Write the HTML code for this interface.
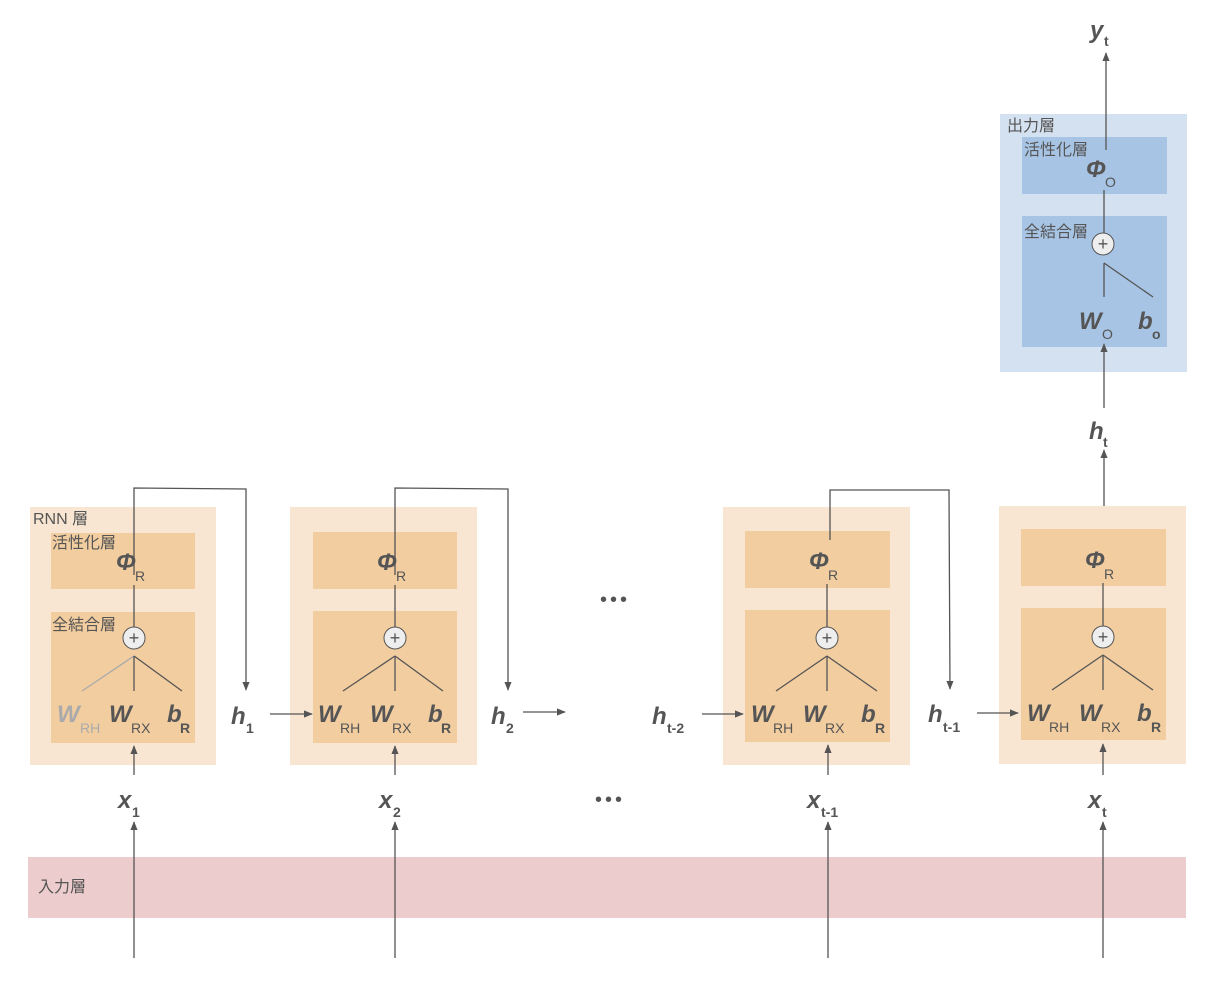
<!DOCTYPE html>
<html><head><meta charset="utf-8"><style>
html,body{margin:0;padding:0;background:#fff}
svg{display:block}
.m{font-family:"Liberation Sans",sans-serif;font-weight:bold;font-style:italic;font-size:24px;fill:#555}
.s{font-family:"Liberation Sans",sans-serif;font-size:14px;fill:#555}
.sb{font-family:"Liberation Sans",sans-serif;font-size:14px;font-weight:bold;fill:#555}
.j{font-family:"Liberation Sans","Noto Sans CJK JP",sans-serif;font-size:16px;fill:#555}
line,polyline{stroke:#555;stroke-width:1.3;fill:none}
</style></head><body>
<svg width="1212" height="992" viewBox="0 0 1212 992" xmlns="http://www.w3.org/2000/svg">
<defs>
<marker id="a" viewBox="0 0 10 10" refX="9" refY="5" markerWidth="7" markerHeight="7" orient="auto"><path d="M0,1 L10,5 L0,9 z" fill="#555"/></marker>
</defs>
<rect x="28" y="857" width="1158" height="61" fill="#eccccc"/>
<text class="j" x="38" y="892">入力層</text>

<rect x="1000" y="114" width="187" height="258" fill="#d4e1f0"/>
<rect x="1022" y="137" width="145" height="57" fill="#a8c4e4"/>
<rect x="1022" y="216" width="145" height="131" fill="#a8c4e4"/>
<text class="j" x="1007" y="131">出力層</text>
<text class="j" x="1024" y="155">活性化層</text>
<text class="j" x="1024" y="237">全結合層</text>
<text class="m" x="1086" y="177">Φ</text><text class="s" x="1105" y="187">O</text>
<line x1="1104" y1="190" x2="1104" y2="233"/>
<circle cx="1103" cy="244" r="11" fill="#eee" stroke="#555" stroke-width="1"/>
<text x="1103" y="250" text-anchor="middle" font-family="Liberation Sans" font-size="18" fill="#555">+</text>
<line x1="1104" y1="263" x2="1104" y2="297"/>
<line x1="1104" y1="263" x2="1153" y2="297"/>
<text class="m" x="1079" y="329">W</text><text class="s" x="1102" y="339">O</text>
<text class="m" x="1138" y="329">b</text><text class="sb" x="1152" y="339">o</text>
<line x1="1106" y1="150" x2="1106" y2="53" marker-end="url(#a)"/>
<text class="m" x="1090" y="38">y</text><text class="sb" x="1104" y="46">t</text>
<line x1="1104" y1="408" x2="1104" y2="344" marker-end="url(#a)"/>
<text class="m" x="1089" y="439">h</text><text class="sb" x="1103" y="447">t</text>
<line x1="1104" y1="530" x2="1104" y2="450" marker-end="url(#a)"/>

<rect x="30" y="507" width="186" height="258" fill="#f8e6d2"/>
<rect x="51" y="533" width="144" height="56" fill="#f2cda0"/>
<rect x="51" y="612" width="144" height="131" fill="#f2cda0"/>
<text class="j" x="33" y="524">RNN 層</text>
<text class="j" x="52" y="548">活性化層</text>
<text class="j" x="52" y="630">全結合層</text>
<rect x="290" y="507" width="187" height="258" fill="#f8e6d2"/>
<rect x="313" y="532" width="144" height="57" fill="#f2cda0"/>
<rect x="313" y="611" width="144" height="132" fill="#f2cda0"/>
<rect x="723" y="507" width="187" height="258" fill="#f8e6d2"/>
<rect x="745" y="531" width="145" height="57" fill="#f2cda0"/>
<rect x="745" y="610" width="145" height="132" fill="#f2cda0"/>
<rect x="999" y="506" width="187" height="258" fill="#f8e6d2"/>
<rect x="1021" y="529" width="145" height="57" fill="#f2cda0"/>
<rect x="1021" y="608" width="145" height="132" fill="#f2cda0"/>

<g>
<text class="m" x="116" y="570">Φ</text><text class="s" x="135" y="581">R</text>
<line x1="134" y1="585" x2="134" y2="627"/>
<circle cx="134" cy="638" r="11" fill="#eee" stroke="#555" stroke-width="1"/>
<text x="134" y="644" text-anchor="middle" font-family="Liberation Sans" font-size="18" fill="#555">+</text>
<line x1="134" y1="656" x2="82" y2="691" style="stroke:#aaa"/><line x1="134" y1="656" x2="134" y2="691"/><line x1="134" y1="656" x2="182" y2="691"/>
<text class="m" x="57" y="722" style="fill:#aaa">W</text><text class="s" x="80" y="733" style="fill:#aaa">RH</text>
<text class="m" x="109" y="722">W</text><text class="s" x="131" y="733">RX</text>
<text class="m" x="167" y="722">b</text><text class="sb" x="180" y="733">R</text>
<polyline points="134,575 134,488 246,489 246,690" marker-end="url(#a)"/>
<text class="m" x="231" y="724">h</text><text class="sb" x="246" y="733">1</text>
<line x1="270" y1="714" x2="312" y2="714" marker-end="url(#a)"/>
</g>
<g>
<text class="m" x="377" y="570">Φ</text><text class="s" x="396" y="581">R</text>
<line x1="395" y1="585" x2="395" y2="627"/>
<circle cx="395" cy="638" r="11" fill="#eee" stroke="#555" stroke-width="1"/>
<text x="395" y="644" text-anchor="middle" font-family="Liberation Sans" font-size="18" fill="#555">+</text>
<line x1="395" y1="656" x2="343" y2="691"/><line x1="395" y1="656" x2="395" y2="691"/><line x1="395" y1="656" x2="443" y2="691"/>
<text class="m" x="318" y="722">W</text><text class="s" x="340" y="733">RH</text>
<text class="m" x="370" y="722">W</text><text class="s" x="392" y="733">RX</text>
<text class="m" x="428" y="722">b</text><text class="sb" x="441" y="733">R</text>
<polyline points="395,575 395,488 508,489 508,690" marker-end="url(#a)"/>
<text class="m" x="491" y="724">h</text><text class="sb" x="506" y="733">2</text>
<line x1="523" y1="712" x2="565" y2="712" marker-end="url(#a)"/>
</g>
<text x="615" y="606" text-anchor="middle" font-family="Liberation Sans" font-size="20" fill="#555" letter-spacing="3">•••</text>
<text x="610" y="806" text-anchor="middle" font-family="Liberation Sans" font-size="20" fill="#555" letter-spacing="3">•••</text>
<text class="m" x="652" y="724">h</text><text class="sb" x="667" y="733">t-2</text>
<line x1="702" y1="714" x2="743" y2="714" marker-end="url(#a)"/>
<g>
<text class="m" x="809" y="569">Φ</text><text class="s" x="828" y="580">R</text>
<line x1="827" y1="584" x2="827" y2="627"/>
<circle cx="827" cy="638" r="11" fill="#eee" stroke="#555" stroke-width="1"/>
<text x="827" y="644" text-anchor="middle" font-family="Liberation Sans" font-size="18" fill="#555">+</text>
<line x1="827" y1="656" x2="776" y2="691"/><line x1="827" y1="656" x2="827" y2="691"/><line x1="827" y1="656" x2="877" y2="691"/>
<text class="m" x="751" y="722">W</text><text class="s" x="773" y="733">RH</text>
<text class="m" x="803" y="722">W</text><text class="s" x="825" y="733">RX</text>
<text class="m" x="861" y="722">b</text><text class="sb" x="875" y="733">R</text>
<polyline points="830,540 830,490 949,490 950,689" marker-end="url(#a)"/>
<text class="m" x="928" y="722">h</text><text class="sb" x="943" y="732">t-1</text>
<line x1="977" y1="713" x2="1018" y2="713" marker-end="url(#a)"/>
</g>
<g>
<text class="m" x="1085" y="568">Φ</text><text class="s" x="1104" y="579">R</text>
<line x1="1103" y1="583" x2="1103" y2="626"/>
<circle cx="1103" cy="637" r="11" fill="#eee" stroke="#555" stroke-width="1"/>
<text x="1103" y="643" text-anchor="middle" font-family="Liberation Sans" font-size="18" fill="#555">+</text>
<line x1="1103" y1="655" x2="1052" y2="690"/><line x1="1103" y1="655" x2="1103" y2="690"/><line x1="1103" y1="655" x2="1153" y2="690"/>
<text class="m" x="1027" y="721">W</text><text class="s" x="1049" y="732">RH</text>
<text class="m" x="1079" y="721">W</text><text class="s" x="1101" y="732">RX</text>
<text class="m" x="1137" y="721">b</text><text class="sb" x="1151" y="732">R</text>
</g>

<line x1="134" y1="775" x2="134" y2="746" marker-end="url(#a)"/>
<text class="m" x="118" y="808">x</text><text class="sb" x="132" y="817">1</text>
<line x1="134" y1="958" x2="134" y2="822" marker-end="url(#a)"/>
<line x1="395" y1="775" x2="395" y2="746" marker-end="url(#a)"/>
<text class="m" x="379" y="808">x</text><text class="sb" x="393" y="817">2</text>
<line x1="395" y1="958" x2="395" y2="822" marker-end="url(#a)"/>
<line x1="828" y1="775" x2="828" y2="745" marker-end="url(#a)"/>
<text class="m" x="807" y="808">x</text><text class="sb" x="821" y="817">t-1</text>
<line x1="828" y1="958" x2="828" y2="822" marker-end="url(#a)"/>
<line x1="1103" y1="775" x2="1103" y2="744" marker-end="url(#a)"/>
<text class="m" x="1088" y="808">x</text><text class="sb" x="1102" y="817">t</text>
<line x1="1103" y1="958" x2="1103" y2="822" marker-end="url(#a)"/>
</svg>
</body></html>
